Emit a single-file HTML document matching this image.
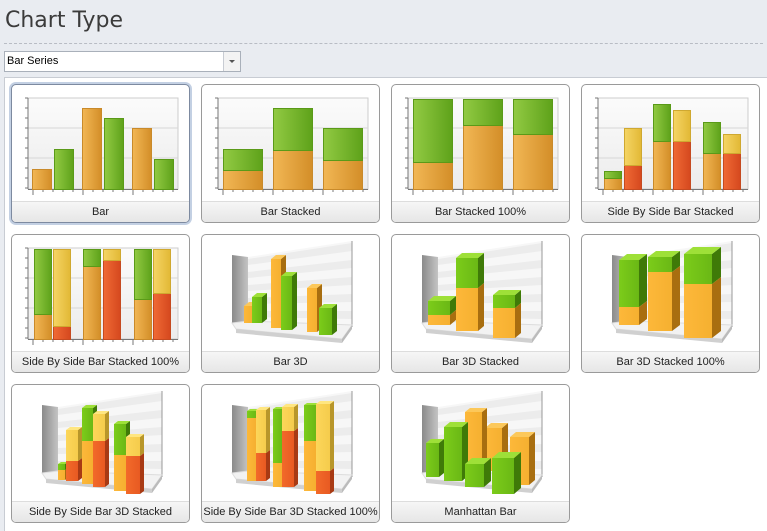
<!DOCTYPE html>
<html><head><meta charset="utf-8"><style>
body{margin:0;width:767px;height:530px;overflow:hidden;background:#e9ecf1;font-family:"Liberation Sans",sans-serif;position:relative}
.title{position:absolute;left:5px;top:8px;font-size:22px;color:#3b3b3b;font-family:"DejaVu Sans","Liberation Sans",sans-serif}
.dash{position:absolute;left:4px;right:4px;top:43px;border-top:1px dashed #b8bcc4}
.combo{position:absolute;left:4px;top:51px;width:235px;height:19px;border:1px solid #a9b0ba;background:#fff;font-size:11px;line-height:19px}
.combo span{padding-left:2px}
.combo .btn{position:absolute;right:0;top:0;width:16px;height:19px;border-left:1px solid #c8ccd3;background:#f3f3f3}
.combo .btn:after{content:"";position:absolute;left:5px;top:8px;border-left:3px solid transparent;border-right:3px solid transparent;border-top:3px solid #555}
.panel{position:absolute;left:4px;top:77px;width:762px;height:453px;background:#fff;border-left:1px solid #c8ccd3;border-top:1px solid #c8ccd3}
.tile{position:absolute;width:177px;height:137px;border:1px solid #9a9a9a;border-radius:5px;background:#fff;overflow:hidden}
.tile.sel{box-shadow:0 0 0 2px #c3d0e3;border-color:#7d8aa0}
.lab{position:absolute;left:0;right:0;bottom:0;height:20px;border-top:1px solid #ddd;background:linear-gradient(#f6f6f6,#e6e6e6);font-size:11px;text-align:center;line-height:20px;color:#222}
svg{position:absolute;left:0;top:0}
</style></head><body>
<div class="title">Chart Type</div>
<div class="dash"></div>
<div class="combo"><span>Bar Series</span><div class="btn"></div></div>
<div class="panel"></div>
<div id="tiles"></div>
<svg width="0" height="0"><defs>
<linearGradient id="o" x1="0" x2="1"><stop offset="0" stop-color="#f2b755"/><stop offset="1" stop-color="#d38e28"/></linearGradient>
<linearGradient id="g" x1="0" x2="1"><stop offset="0" stop-color="#92ca43"/><stop offset="1" stop-color="#5ea21a"/></linearGradient>
<linearGradient id="r" x1="0" x2="1"><stop offset="0" stop-color="#f06a35"/><stop offset="1" stop-color="#d5481e"/></linearGradient>
<linearGradient id="y" x1="0" x2="1"><stop offset="0" stop-color="#f5d565"/><stop offset="1" stop-color="#e2b835"/></linearGradient>
<linearGradient id="o3" x1="0" x2="1"><stop offset="0" stop-color="#fdb83a"/><stop offset="1" stop-color="#f5b030"/></linearGradient>
<linearGradient id="g3" x1="0" x2="1"><stop offset="0" stop-color="#7ccc1a"/><stop offset="1" stop-color="#6ab815"/></linearGradient>
<linearGradient id="r3" x1="0" x2="1"><stop offset="0" stop-color="#f26a2a"/><stop offset="1" stop-color="#e85a22"/></linearGradient>
<linearGradient id="y3" x1="0" x2="1"><stop offset="0" stop-color="#fcd65a"/><stop offset="1" stop-color="#f5cc4c"/></linearGradient>
<linearGradient id="bg" x1="0" y1="0" x2="0" y2="1"><stop offset="0" stop-color="#fbfbfb"/><stop offset="1" stop-color="#ececec"/></linearGradient>
<linearGradient id="wall" x1="0" x2="1"><stop offset="0" stop-color="#8a8a8a"/><stop offset="1" stop-color="#c4c4c4"/></linearGradient>
</defs></svg>
<script>
const C2={o:['url(#o)','#c98a2a'],g:['url(#g)','#5a9a18'],r:['url(#r)','#c54a20'],y:['url(#y)','#cfa830']};
const C3={o:['url(#o3)','#fcc85a','#a86e10'],g:['url(#g3)','#9ee038','#3f7a08'],r:['url(#r3)','#f58a55','#a83a14'],y:['url(#y3)','#ffe680','#b8962a']};
const tiles=[
['Bar',11,84,1,'2d',[[20,20,[[104,84,'o']]],[42,20,[[104,64,'g']]],[70,20,[[104,23,'o']]],[92,20,[[104,33,'g']]],[120,20,[[104,43,'o']]],[142,20,[[104,74,'g']]]]],
['Bar Stacked',201,84,0,'2d',[[21,40,[[104,85,'o'],[85,64,'g']]],[71,40,[[104,65,'o'],[65,23,'g']]],[121,40,[[104,75,'o'],[75,43,'g']]]]],
['Bar Stacked 100%',391,84,0,'2d',[[21,40,[[104,77,'o'],[77,14,'g']]],[71,40,[[104,40,'o'],[40,14,'g']]],[121,40,[[104,49,'o'],[49,14,'g']]]]],
['Side By Side Bar Stacked',581,84,0,'2d',[[22,18,[[104,93,'o'],[93,86,'g']]],[42,18,[[104,80,'r'],[80,43,'y']]],[71,18,[[104,56,'o'],[56,19,'g']]],[91,18,[[104,56,'r'],[56,25,'y']]],[121,18,[[104,68,'o'],[68,37,'g']]],[141,18,[[104,68,'r'],[68,49,'y']]]]],
['Side By Side Bar Stacked 100%',11,234,0,'2d',[[22,18,[[104,79,'o'],[79,14,'g']]],[41,18,[[104,91,'r'],[91,14,'y']]],[71,18,[[104,31,'o'],[31,14,'g']]],[91,18,[[104,25,'r'],[25,14,'y']]],[122,18,[[104,64,'o'],[64,14,'g']]],[141,18,[[104,58,'r'],[58,14,'y']]]]],
['Bar 3D',201,234,0,'3d',[[42,8,[[88,71,'o']]],[50,10,[[88,62,'g']]],[69,10,[[93,24,'o']]],[79,11,[[95,41,'g']]],[105,10,[[97,53,'o']]],[117,13,[[100,73,'g']]]]],
['Bar 3D Stacked',391,234,0,'3d',[[36,22,[[90,80,'o'],[80,66,'g']],6],[64,22,[[96,53,'o'],[53,23,'g']],6],[101,22,[[103,73,'o'],[73,60,'g']],6]]],
['Bar 3D Stacked 100%',581,234,0,'3d',[[37,20,[[90,72,'o'],[72,25,'g']],8],[66,24,[[96,37,'o'],[37,22,'g']],8],[102,28,[[103,49,'o'],[49,19,'g']],9]]],
['Side By Side Bar 3D Stacked',11,384,0,'3d',[[46,7,[[95,85,'o'],[85,79,'g']],3],[54,12,[[96,76,'r'],[76,45,'y']],4],[70,11,[[99,56,'o'],[56,23,'g']],4],[81,12,[[102,56,'r'],[56,29,'y']],4],[102,12,[[106,70,'o'],[70,39,'g']],4],[114,14,[[109,71,'r'],[71,52,'y']],4]]],
['Side By Side Bar 3D Stacked 100%',201,384,0,'3d',[[45,9,[[96,33,'o'],[33,26,'g']],3],[54,10,[[96,68,'r'],[68,25,'y']],4],[71,9,[[102,78,'o'],[78,24,'g']],3],[80,12,[[102,46,'r'],[46,22,'y']],4],[102,12,[[106,56,'o'],[56,20,'g']],3],[114,14,[[109,86,'r'],[86,19,'y']],4]]],
['Manhattan Bar',391,384,0,'3d',[[118,19,[[100,52,'o']],6],[93,17,[[86,43,'o']],6],[73,17,[[80,27,'o']],5],[34,13,[[92,58,'g']],5],[52,18,[[96,42,'g']],6],[73,19,[[102,79,'g']],7],[100,22,[[109,73,'g']],7]]]
];
let h='';
for(const [name,x,y,sel,type,bars] of tiles){
 let s=`<svg width="177" height="137">`;
 if(type=='2d'){
  s+=`<rect x="16" y="13" width="150" height="91" fill="url(#bg)" stroke="#ccc"/>`;
  for(const gy of [43,73])s+=`<line x1="16" x2="166" y1="${gy}" y2="${gy}" stroke="#d6d6d6"/>`;
  s+=`<line x1="16" y1="13" x2="16" y2="104" stroke="#777"/><line x1="16" y1="104.5" x2="166" y2="104.5" stroke="#777"/>`;
  for(let t=13;t<=104;t+=10)s+=`<line x1="13" x2="16" y1="${t}" y2="${t}" stroke="#777"/>`;
  for(let t=21;t<166;t+=10)s+=`<line x1="${t}" x2="${t}" y1="104" y2="${t%50==21?110:107}" stroke="#777"/>`;
  for(const [bx,bw,segs] of bars)for(const [b,t,c] of segs)s+=`<rect x="${bx+.5}" y="${t+.5}" width="${bw-1}" height="${b-t}" fill="${C2[c][0]}" stroke="${C2[c][1]}"/>`;
 } else {
  s+=`<polygon points="30,20 46,22 46,86 30,88" fill="url(#wall)"/>`;
  s+=`<polygon points="46,22 150,6 150,90 46,86" fill="#f7f7f7"/>`;
  for(let i=0;i<5;i++){let a=24+i*13,b=8+i*17;s+=`<polygon points="46,${a} 150,${b} 150,${b+8} 46,${a+6}" fill="#ececec"/>`}
  s+=`<line x1="150" y1="6" x2="150" y2="92" stroke="#999"/>`;
  s+=`<polygon points="30,88 46,86 150,90 140,104 34,94" fill="#f2f2f2" stroke="#ddd"/><polygon points="34,94 140,104 140,108 34,98" fill="#d0d0d0"/><polygon points="140,104 150,90 150,94 140,108" fill="#bbb"/>`;
  for(const [bx,bw,segs,dd] of bars)for(const [b,t,c] of segs){const d=dd||5,e=Math.round(d*0.8),k=C3[c];
   s+=`<polygon points="${bx+bw},${t} ${bx+bw+d},${t-e} ${bx+bw+d},${b-e} ${bx+bw},${b}" fill="${k[2]}"/>`;
   s+=`<polygon points="${bx},${t} ${bx+d},${t-e} ${bx+bw+d},${t-e} ${bx+bw},${t}" fill="${k[1]}"/>`;
   s+=`<rect x="${bx}" y="${t}" width="${bw}" height="${b-t}" fill="${k[0]}"/>`;}
 }
 s+='</svg>';
 h+=`<div class="tile${sel?' sel':''}" style="left:${x}px;top:${y}px">${s}<div class="lab">${name}</div></div>`;
}
document.getElementById('tiles').innerHTML=h;
</script>
</body></html>
